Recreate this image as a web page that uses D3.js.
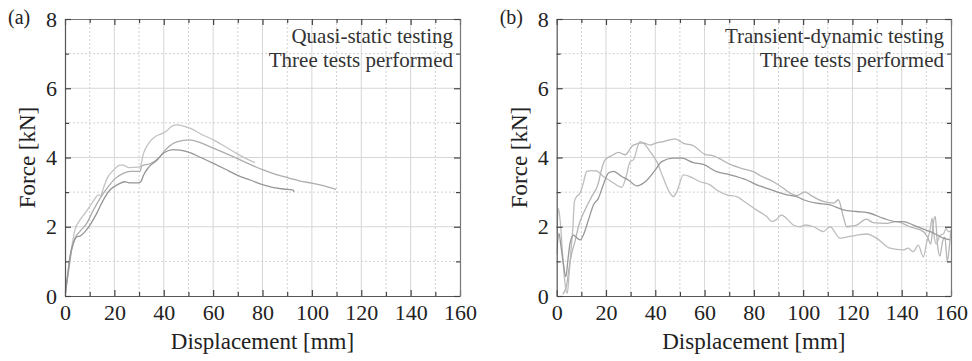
<!DOCTYPE html>
<html>
<head>
<meta charset="utf-8">
<script src="https://cdn.jsdelivr.net/npm/d3@7"></script>
<style>
  html,body{margin:0;padding:0;background:#fff;}
  svg{display:block;}
</style>
</head>
<body>
<svg id="chart" width="972" height="361"></svg>
<script>
// ---------------- DATA ----------------
const xTicks = [0,20,40,60,80,100,120,140,160];
const yTicks = [0,2,4,6,8];
const panelLabels = ["(a)","(b)"];
const panelNotes = [["Quasi-static testing","Three tests performed"],
                    ["Transient-dynamic testing","Three tests performed"]];
const xTitle = "Displacement [mm]";
const yTitle = "Force [kN]";

// (a) quasi-static tests: [displacement mm, force kN]
const qsA = [[0,0],[1,0.6],[2,1.1],[2.7,1.4],[4,1.9],[6,2.19],[8,2.38],[10,2.58],[12.2,2.82],[13.5,2.92],[14.5,2.9],[15.5,3.1],[17,3.39],[19.6,3.63],[22.3,3.78],[23.6,3.78],[25.7,3.71],[30.4,3.73],[31.8,4.12],[33.8,4.4],[36.5,4.6],[39.9,4.71],[41.2,4.77],[43.2,4.9],[45.5,4.94],[49.3,4.88],[50.6,4.85],[55,4.68],[60.1,4.51],[65,4.31],[69.5,4.12],[73,3.98],[77,3.85]];
const qsB = [[0,0],[1,0.5],[2,1.0],[2.7,1.33],[4,1.66],[6,1.86],[8.8,2.1],[11.5,2.48],[14.2,2.82],[16.9,3.1],[20.3,3.39],[23.6,3.54],[26.4,3.6],[30.4,3.6],[31.1,3.76],[34.5,3.82],[37.8,3.97],[41.2,4.26],[45.3,4.45],[50.6,4.51],[55,4.42],[60.1,4.27],[65,4.12],[69.5,3.98],[75,3.8],[80.3,3.64],[85,3.52],[91.1,3.4],[95.2,3.32],[100,3.26],[103.3,3.21],[107,3.14],[109.8,3.08]];
const qsC = [[0,0],[1,0.55],[2,1.13],[3.4,1.52],[4.7,1.71],[6.1,1.73],[8.1,1.86],[10.1,2.05],[12.8,2.38],[15.5,2.77],[18.2,3.06],[21.6,3.23],[24.3,3.3],[26,3.27],[29.7,3.27],[30.7,3.3],[31.8,3.49],[33.8,3.71],[37.2,3.92],[39.9,4.13],[43.9,4.23],[46.6,4.21],[50.6,4.14],[55,4.0],[60.1,3.83],[65,3.66],[69.5,3.5],[75,3.35],[80.3,3.21],[84,3.14],[88.4,3.09],[92.4,3.06],[92.8,3.0]];

// (b) transient-dynamic tests
const tdE = [[0,1.2],[0.9,1.81],[1.8,1.4],[2.7,0.94],[3.7,0.56],[4.7,1.14],[5.4,1.52],[6.8,1.76],[7.7,1.71],[9.5,1.62],[10.8,1.76],[12.9,2.2],[14.9,2.63],[16.9,2.82],[18.9,3.21],[21,3.55],[23,3.6],[26.4,3.45],[29.1,3.35],[32.5,3.18],[35.9,3.3],[40,3.64],[42.6,3.88],[47.3,3.98],[50.7,3.98],[55.5,3.85],[59.5,3.8],[64.9,3.59],[70.4,3.5],[77.1,3.35],[81.2,3.21],[85.3,3.11],[89.3,3.01],[93.4,2.92],[97.4,2.87],[100.1,2.78],[105.5,2.68],[110.9,2.63],[116.3,2.49],[121.7,2.44],[127.1,2.39],[132.6,2.24],[137.9,2.15],[140.6,2.15],[144.7,2.05],[148.8,1.93],[152.8,1.82],[156.9,1.67],[159.6,1.62]];
const tdF = [[0,1.8],[0.7,2.53],[1.5,2.1],[2.4,1.2],[3.3,0.4],[4.3,0.08],[5,0.6],[5.8,1.33],[6.5,1.9],[7.2,2.73],[8.1,2.87],[9.5,2.97],[10.8,3.26],[12.2,3.6],[14.2,3.62],[16.2,3.61],[19,3.45],[22.3,3.3],[24.4,3.2],[26.4,3.14],[28,3.4],[29.8,3.88],[31.1,3.93],[33.8,4.46],[35.5,4.4],[37.9,4.17],[40.6,3.88],[43.3,3.4],[46,2.97],[47.3,2.87],[48.7,3.01],[51.4,3.5],[54.1,3.45],[58.1,3.3],[62.2,3.21],[64.9,3.06],[69,2.92],[73,2.87],[77.1,2.68],[81.2,2.48],[85.3,2.29],[87.3,2.15],[89,2.2],[91.2,2.34],[93.3,2.24],[96,2.05],[98.7,2.0],[101,2.05],[104.2,2.0],[108.2,1.86],[110.9,2.0],[115,1.67],[119,1.72],[125.7,1.79],[129.8,1.67],[135.2,1.38],[140.6,1.33],[142.6,1.38],[144.7,1.28],[146.7,1.47],[148.8,1.13],[150.2,1.57],[151.5,1.9],[152.3,2.25],[153,1.8],[154,1.5],[155.5,1.75],[157,1.8],[158,1.95],[159,1.85],[160,1.9]];
const tdG = [[2.5,0.05],[4,0.3],[5,0.8],[6.1,1.23],[7.5,1.6],[8.8,2.0],[11.5,2.49],[14.2,2.87],[16.9,3.26],[18,3.6],[19.6,3.93],[23,4.08],[25,4.15],[27.7,4.08],[31.1,4.36],[35.2,4.42],[37.9,4.36],[40,4.41],[43.3,4.46],[48,4.54],[51.4,4.41],[55.5,4.34],[60.2,4.09],[63.6,4.05],[70.4,3.8],[75.8,3.67],[79.8,3.59],[82.5,3.48],[87.9,3.3],[92,3.11],[94.7,2.97],[97.4,2.9],[100.8,3.01],[102.8,2.92],[108.2,2.73],[112.3,2.68],[114.3,2.78],[116.3,2.29],[117.7,2.0],[119.7,2.02],[121.7,2.05],[125.7,2.22],[128.4,2.12],[133.9,2.1],[137.9,2.15],[143.3,2.0],[148.8,1.86],[150.5,1.7],[151.8,1.5],[152.8,2.1],[153.6,2.3],[154.5,1.5],[155.5,1.15],[156.5,1.55],[157.5,1.7],[158.5,1.0],[159.3,1.4],[160,1.9]];

const panelSeries = [[qsA,qsB,qsC],[tdF,tdG,tdE]];
const seriesColors = [["#c2c2c2","#adadad","#959595"],["#bdbdbd","#b5b5b5","#979797"]];

// ---------------- LAYOUT ----------------
const svg = d3.select("#chart");
const FONT = "'Liberation Serif','Times New Roman',serif";
const panels = [{left:65,right:460},{left:556.7,right:951}];
const plotTop = 19, plotBottom = 296;

panels.forEach((p,i)=>{
  const x = d3.scaleLinear().domain([0,160]).range([p.left,p.right]);
  const y = d3.scaleLinear().domain([0,8]).range([plotBottom,plotTop]);
  const g = svg.append("g");

  // grid
  const xMinor = d3.range(10,160,10);
  const yMinor = d3.range(1,8,1);
  g.selectAll(".gx").data(xMinor).join("line")
    .attr("x1",d=>x(d)).attr("x2",d=>x(d)).attr("y1",plotTop).attr("y2",plotBottom)
    .attr("stroke", d=> d%20===0 ? "#d6d6d6" : "#d0d0d0")
    .attr("stroke-width",1)
    .attr("stroke-dasharray", d=> d%20===0 ? null : "2,2");
  g.selectAll(".gy").data(yMinor).join("line")
    .attr("y1",d=>y(d)).attr("y2",d=>y(d)).attr("x1",p.left).attr("x2",p.right)
    .attr("stroke", d=> d%2===0 ? "#d6d6d6" : "#d0d0d0")
    .attr("stroke-width",1)
    .attr("stroke-dasharray", d=> d%2===0 ? null : "2,2");

  // curves
  const clipId = "clip"+i;
  svg.append("clipPath").attr("id",clipId).append("rect")
    .attr("x",p.left).attr("y",plotTop).attr("width",p.right-p.left).attr("height",plotBottom-plotTop);
  const line = d3.line().x(d=>x(d[0])).y(d=>y(d[1])).curve(d3.curveMonotoneX);
  const cg = g.append("g").attr("clip-path",`url(#${clipId})`);
  panelSeries[i].forEach((s,k)=>{
    cg.append("path").attr("d",line(s)).attr("fill","none")
      .attr("stroke",seriesColors[i][k]).attr("stroke-width",1.3);
  });

  // axes (inward ticks)
  const styleAxis = sel => {
    sel.selectAll(".domain").attr("stroke","#555").attr("stroke-width",1.2);
    sel.selectAll(".tick line").attr("stroke","#444").attr("stroke-width",1.2);
    sel.selectAll("text").attr("font-family",FONT).attr("font-size",22).attr("fill","#222");
  };
  const minorX = d3.range(0,161,10).filter(d=>d%20!==0);
  const minorY = d3.range(0,8.01,1).filter(d=>d%2!==0);

  g.append("g").attr("transform",`translate(0,${plotBottom})`)
    .call(d3.axisBottom(x).tickValues(xTicks).tickSizeInner(-6).tickSizeOuter(0).tickPadding(8).tickFormat(d3.format("d")))
    .call(styleAxis);
  g.append("g").attr("transform",`translate(0,${plotBottom})`)
    .call(d3.axisBottom(x).tickValues(minorX).tickSizeInner(-4).tickSizeOuter(0).tickFormat(""))
    .call(styleAxis).select(".domain").remove();
  g.append("g").attr("transform",`translate(0,${plotTop})`)
    .call(d3.axisTop(x).tickValues(xTicks).tickSizeInner(-6).tickSizeOuter(0).tickFormat(""))
    .call(styleAxis).selectAll(".domain").attr("stroke","#777");
  g.append("g").attr("transform",`translate(0,${plotTop})`)
    .call(d3.axisTop(x).tickValues(minorX).tickSizeInner(-4).tickSizeOuter(0).tickFormat(""))
    .call(styleAxis).select(".domain").remove();

  g.append("g").attr("transform",`translate(${p.left},0)`)
    .call(d3.axisLeft(y).tickValues(yTicks).tickSizeInner(-6).tickSizeOuter(0).tickPadding(8).tickFormat(d3.format("d")))
    .call(styleAxis);
  g.append("g").attr("transform",`translate(${p.left},0)`)
    .call(d3.axisLeft(y).tickValues(minorY).tickSizeInner(-4).tickSizeOuter(0).tickFormat(""))
    .call(styleAxis).select(".domain").remove();
  g.append("g").attr("transform",`translate(${p.right},0)`)
    .call(d3.axisRight(y).tickValues(yTicks).tickSizeInner(-6).tickSizeOuter(0).tickFormat(""))
    .call(styleAxis).selectAll(".domain").attr("stroke","#777");
  g.append("g").attr("transform",`translate(${p.right},0)`)
    .call(d3.axisRight(y).tickValues(minorY).tickSizeInner(-4).tickSizeOuter(0).tickFormat(""))
    .call(styleAxis).select(".domain").remove();

  // titles
  g.append("text").attr("x",(p.left+p.right)/2).attr("y",349)
    .attr("text-anchor","middle").attr("font-family",FONT).attr("font-size",23).attr("fill","#222")
    .text(xTitle);
  g.append("text").attr("transform",`translate(${p.left-30},${(plotTop+plotBottom)/2}) rotate(-90)`)
    .attr("text-anchor","middle").attr("font-family",FONT).attr("font-size",23).attr("fill","#222")
    .text(yTitle);
  g.append("text").attr("x",p.left-57).attr("y",24)
    .attr("font-family",FONT).attr("font-size",20).attr("fill","#222").text(panelLabels[i]);
  panelNotes[i].forEach((t,k)=>{
    g.append("text").attr("x",p.right-7).attr("y",43+k*24)
      .attr("text-anchor","end").attr("font-family",FONT).attr("font-size",21).attr("fill","#333")
      .text(t);
  });
});
</script>
</body>
</html>
